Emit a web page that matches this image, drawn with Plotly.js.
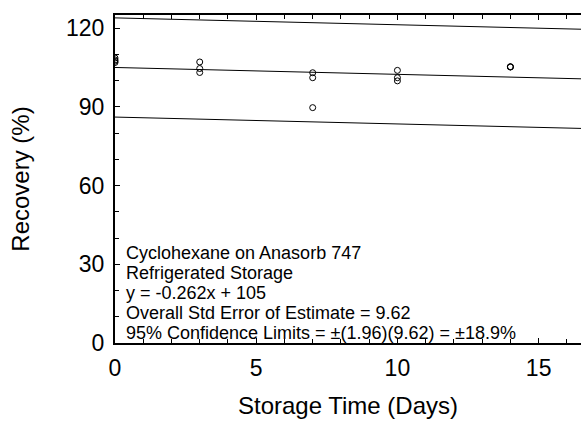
<!DOCTYPE html>
<html>
<head>
<meta charset="utf-8">
<script src="https://cdn.plot.ly/plotly-3.0.1.min.js"></script>
<style>
  html, body { margin: 0; padding: 0; background: #fff; }
  #chart { width: 581px; height: 423px; }
</style>
</head>
<body>
<div id="chart"></div>
<script>
// storage samples
var days = [0, 0, 0, 0, 3, 3, 3, 7, 7, 7, 10, 10, 10, 14, 14, 14];
var recovery = [108.6, 107.9, 107.4, 106.9, 107.1, 104.6, 103.1, 103.0, 101.1, 89.7, 103.9, 101.1, 99.9, 105.2, 105.2, 105.3];

// fit given on the chart
var slope = -0.262;
var intercept = 105;
var limit95 = 18.9;
var fitDays = [0, 16.5];

var notes = [
  "Cyclohexane on Anasorb 747",
  "Refrigerated Storage",
  "y = -0.262x + 105",
  "Overall Std Error of Estimate = 9.62",
  "95% Confidence Limits = \u00b1(1.96)(9.62) = \u00b118.9%"
];

var fitLine = fitDays.map(function (d) { return intercept + slope * d; });
var upperLine = fitLine.map(function (v) { return v + limit95; });
var lowerLine = fitLine.map(function (v) { return v - limit95; });

function lineTrace(yv) {
  return {
    x: fitDays, y: yv, type: "scatter", mode: "lines",
    line: { color: "black", width: 1 }, hoverinfo: "skip"
  };
}

var data = [
  lineTrace(upperLine),
  lineTrace(fitLine),
  lineTrace(lowerLine),
  {
    x: days, y: recovery, type: "scatter", mode: "markers",
    marker: { symbol: "circle-open", size: 6, color: "black", line: { width: 1, color: "black" } },
    cliponaxis: true
  }
];

// one annotation per text line so the spacing stays tight
var lineY = [0.274, 0.213, 0.152, 0.091, 0.030];
var annotations = notes.map(function (t, i) {
  return {
    xref: "paper", yref: "paper", x: 0.02, y: lineY[i],
    xanchor: "left", yanchor: "middle", showarrow: false,
    text: t, font: { size: 18, color: "black" }
  };
});

var layout = {
  width: 581, height: 423,
  margin: { l: 115, r: 0, t: 15, b: 80 },
  paper_bgcolor: "white", plot_bgcolor: "white",
  showlegend: false,
  font: { family: "Liberation Sans, Arial, sans-serif", color: "black" },
  xaxis: {
    range: [0, 16.5], tickvals: [0, 5, 10, 15],
    showgrid: false, zeroline: false,
    showline: true, linewidth: 2, linecolor: "black", mirror: "ticks",
    ticks: "inside", ticklen: 5, tickcolor: "black",
    minor: { dtick: 1, ticks: "inside", ticklen: 4, tickcolor: "black" },
    tickfont: { size: 23 }, ticklabelstandoff: 3,
    title: { text: "Storage Time (Days)", font: { size: 24 }, standoff: 18 }
  },
  yaxis: {
    range: [0, 125], tickvals: [0, 30, 60, 90, 120],
    showgrid: false, zeroline: false,
    showline: true, linewidth: 2, linecolor: "black",
    ticks: "inside", ticklen: 5, tickcolor: "black",
    minor: { dtick: 10, ticks: "inside", ticklen: 4, tickcolor: "black" },
    tickfont: { size: 23 }, ticklabelstandoff: 4,
    title: { text: "Recovery (%)", font: { size: 24 }, standoff: 30 }
  },
  annotations: annotations
};

Plotly.newPlot("chart", data, layout, { displayModeBar: false, staticPlot: true });
</script>
</body>
</html>
